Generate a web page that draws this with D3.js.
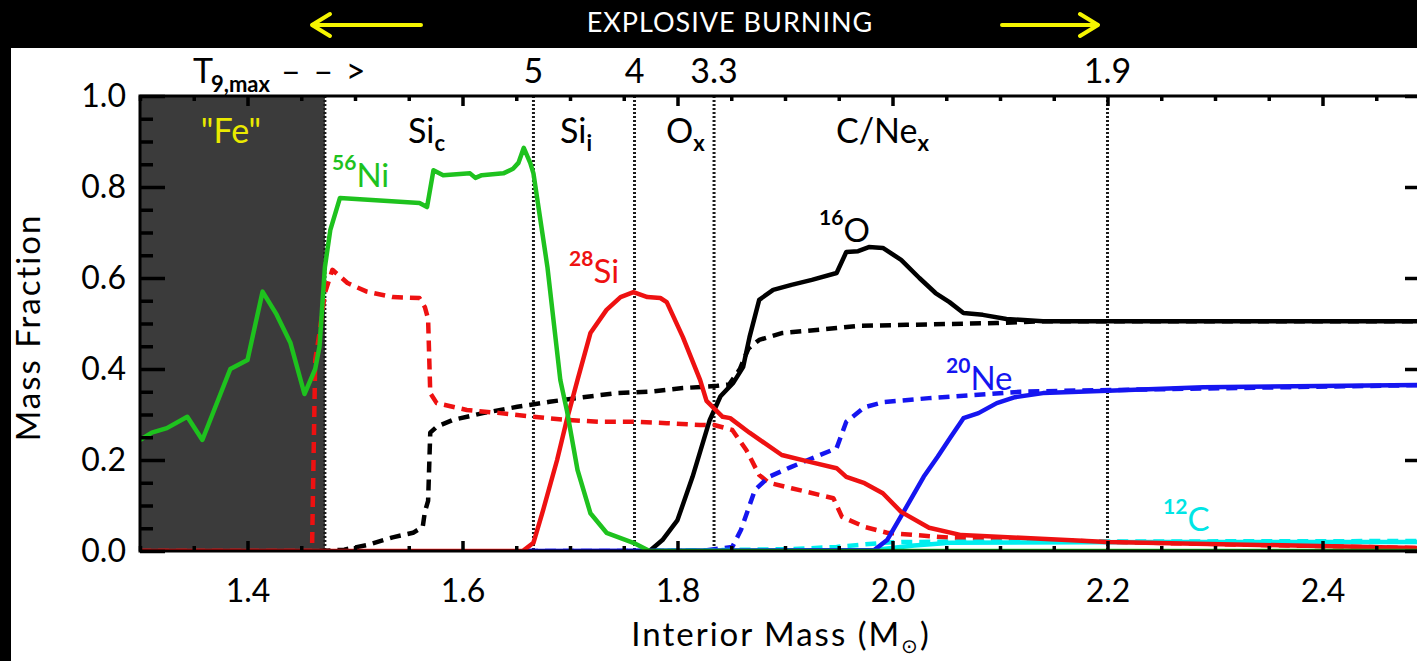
<!DOCTYPE html>
<html>
<head>
<meta charset="utf-8">
<script src="https://cdn.jsdelivr.net/npm/d3@7"></script>
<style>
  html, body { margin: 0; padding: 0; background: #000; }
  svg { display: block; }
  text { font-family: Lato, "DejaVu Sans", sans-serif; }
</style>
</head>
<body>
<svg id="chart" width="1417" height="661"></svg>
<script>
// mass fraction vs interior mass (Msun)
const ni56Solid = [[1.300,0.244],[1.311,0.26],[1.325,0.27],[1.344,0.295],[1.358,0.244],[1.384,0.40],[1.400,0.42],[1.414,0.57],[1.427,0.52],[1.440,0.457],[1.453,0.345],[1.463,0.40],[1.467,0.45],[1.472,0.624],[1.477,0.705],[1.486,0.776],[1.560,0.765],[1.567,0.756],[1.573,0.837],[1.582,0.826],[1.607,0.83],[1.612,0.82],[1.618,0.826],[1.638,0.83],[1.647,0.84],[1.652,0.853],[1.657,0.886],[1.663,0.853],[1.666,0.83],[1.679,0.624],[1.691,0.376],[1.697,0.31],[1.707,0.178],[1.719,0.083],[1.734,0.04],[1.759,0.018],[1.774,0.0],[2.5,0.0]]
const si28Solid = [[1.300,0],[1.656,0],[1.666,0.018],[1.675,0.09],[1.688,0.2],[1.697,0.288],[1.707,0.376],[1.719,0.479],[1.734,0.53],[1.747,0.558],[1.759,0.569],[1.772,0.558],[1.784,0.556],[1.790,0.547],[1.805,0.47],[1.821,0.376],[1.827,0.33],[1.842,0.295],[1.849,0.292],[1.867,0.26],[1.897,0.211],[1.923,0.196],[1.948,0.182],[1.957,0.163],[1.974,0.149],[1.991,0.127],[2.008,0.086],[2.034,0.051],[2.064,0.035],[2.119,0.029],[2.200,0.02],[2.5,0.006]]
const si28Dash = [[1.300,0],[1.460,0],[1.463,0.42],[1.467,0.48],[1.472,0.567],[1.479,0.618],[1.493,0.589],[1.511,0.57],[1.535,0.558],[1.560,0.556],[1.565,0.536],[1.568,0.51],[1.570,0.347],[1.576,0.325],[1.604,0.31],[1.635,0.303],[1.666,0.295],[1.697,0.288],[1.728,0.284],[1.759,0.284],[1.790,0.281],[1.821,0.277],[1.834,0.277],[1.851,0.266],[1.864,0.222],[1.876,0.167],[1.885,0.15],[1.906,0.138],[1.945,0.116],[1.953,0.075],[1.974,0.053],[1.995,0.04],[2.054,0.029],[2.119,0.026],[2.200,0.02],[2.5,0.006]]
const o16Solid = [[1.774,0],[1.786,0.024],[1.800,0.068],[1.814,0.163],[1.830,0.288],[1.840,0.34],[1.852,0.37],[1.861,0.404],[1.867,0.47],[1.876,0.552],[1.889,0.574],[1.906,0.585],[1.925,0.596],[1.948,0.611],[1.957,0.657],[1.968,0.659],[1.978,0.668],[1.991,0.666],[2.008,0.64],[2.025,0.6],[2.040,0.567],[2.053,0.547],[2.066,0.523],[2.084,0.519],[2.106,0.51],[2.140,0.505],[2.5,0.505]]
const o16Dash = [[1.467,0],[1.490,0.003],[1.511,0.013],[1.535,0.03],[1.554,0.04],[1.563,0.053],[1.565,0.086],[1.568,0.11],[1.570,0.26],[1.576,0.273],[1.591,0.288],[1.619,0.303],[1.651,0.317],[1.681,0.328],[1.712,0.338],[1.744,0.347],[1.774,0.35],[1.805,0.358],[1.837,0.363],[1.848,0.366],[1.858,0.40],[1.866,0.445],[1.876,0.464],[1.897,0.479],[1.948,0.49],[1.970,0.495],[2.013,0.497],[2.097,0.501],[2.140,0.505],[2.5,0.505]]
const ne20Solid = [[1.660,0],[1.983,0.002],[1.995,0.024],[2.013,0.097],[2.029,0.163],[2.042,0.207],[2.054,0.25],[2.066,0.292],[2.080,0.303],[2.097,0.325],[2.114,0.338],[2.140,0.347],[2.200,0.352],[2.289,0.36],[2.5,0.365]]
const ne20Dash = [[1.660,0],[1.821,0],[1.851,0.009],[1.859,0.046],[1.872,0.134],[1.885,0.163],[1.906,0.185],[1.948,0.226],[1.957,0.284],[1.974,0.316],[1.991,0.327],[2.034,0.336],[2.076,0.343],[2.119,0.35],[2.156,0.352],[2.5,0.365]]
const c12Solid = [[1.774,0],[1.983,0.002],[2.020,0.012],[2.054,0.018],[2.246,0.02],[2.5,0.02]]
const c12Dash = [[1.774,0],[1.905,0.004],[1.948,0.009],[1.991,0.018],[2.013,0.02],[2.5,0.022]]

// burning zone boundaries and peak temperatures (T9) on top
const boundaries = [1.472, 1.666, 1.760, 1.834, 2.200]
const tempLabels = ['', '5', '4', '3.3', '1.9']
const xTicks = [1.4, 1.6, 1.8, 2.0, 2.2, 2.4]
const yTicks = [0.0, 0.2, 0.4, 0.6, 0.8, 1.0]

const W = 1417, H = 661
const x = d3.scaleLinear().domain([1.3, 2.5]).range([140, 1430])
const y = d3.scaleLinear().domain([0, 1]).range([551, 96])

const svg = d3.select('#chart')
svg.append('rect').attr('width', W).attr('height', H).attr('fill', '#000')
svg.append('rect').attr('x', 11).attr('y', 48).attr('width', W - 11).attr('height', H - 48).attr('fill', '#fff')

/* ---------- header ---------- */
svg.append('text')
  .attr('x', 730).attr('y', 32)
  .attr('text-anchor', 'middle')
  .attr('fill', '#fff')
  .style('font-size', '27px')
  .style('letter-spacing', '1px')
  .text('EXPLOSIVE BURNING')

function arrow(tail, tip) {
  const dir = tip > tail ? -1 : 1
  svg.append('path')
    .attr('d', `M${tail},25 L${tip},25 M${tip + dir * 18},14 L${tip},25 L${tip + dir * 18},36`)
    .attr('fill', 'none')
    .attr('stroke', '#f5f500')
    .attr('stroke-width', 4)
    .attr('stroke-linecap', 'round')
    .attr('stroke-linejoin', 'round')
}
arrow(421, 312)
arrow(1002, 1098)

/* ---------- plot ---------- */
svg.append('clipPath').attr('id', 'clip')
  .append('rect')
  .attr('x', x(1.3)).attr('y', y(1))
  .attr('width', x(2.5) - x(1.3)).attr('height', y(0) - y(1))

const plot = svg.append('g').attr('clip-path', 'url(#clip)')

plot.append('rect')
  .attr('x', x(1.3)).attr('y', y(1))
  .attr('width', x(boundaries[0]) - x(1.3))
  .attr('height', y(0) - y(1))
  .attr('fill', '#3b3b3b')

plot.selectAll('line.bound')
  .data(boundaries)
  .enter()
  .append('line')
  .attr('class', 'bound')
  .attr('x1', d => x(d)).attr('x2', d => x(d))
  .attr('y1', y(1)).attr('y2', y(0))
  .attr('stroke', '#1a1a1a')
  .attr('stroke-width', 3)
  .attr('stroke-dasharray', '2,2')

const line = d3.line().x(d => x(d[0])).y(d => y(d[1]))

const series = [
  { data: o16Dash, color: '#000', dash: '11,7' },
  { data: si28Dash, color: '#ee1111', dash: '11,7' },
  { data: ne20Dash, color: '#1515f0', dash: '11,7' },
  { data: c12Dash, color: '#00eeee', dash: '11,7' },
  { data: c12Solid, color: '#00eeee', dash: null },
  { data: o16Solid, color: '#000', dash: null },
  { data: ne20Solid, color: '#1515f0', dash: null },
  { data: si28Solid, color: '#ee1111', dash: null },
  { data: ni56Solid, color: '#1ec21e', dash: null }
]

plot.selectAll('path.series')
  .data(series)
  .enter()
  .append('path')
  .attr('class', 'series')
  .attr('d', d => line(d.data))
  .attr('fill', 'none')
  .attr('stroke', d => d.color)
  .attr('stroke-width', 4.5)
  .attr('stroke-dasharray', d => d.dash)
  .attr('stroke-linejoin', 'round')

/* ---------- axes ---------- */
const xMinor = d3.range(1.30, 2.501, 0.05).filter(v => !xTicks.some(t => Math.abs(t - v) < 1e-6))
const yMinor = d3.range(0.05, 1.0, 0.05).filter(v => !yTicks.some(t => Math.abs(t - v) < 1e-6))

function styleAxis(g) {
  g.select('.domain').remove()
  g.selectAll('line').attr('stroke', '#000').attr('stroke-width', 3.5)
  g.selectAll('text').attr('fill', '#000').style('font-size', '32px')
}

svg.append('g').attr('transform', `translate(0,${y(0)})`)
  .call(d3.axisBottom(x).tickValues(xTicks).tickSizeInner(-10).tickSizeOuter(0).tickPadding(28).tickFormat(d3.format('.1f')))
  .call(styleAxis)
svg.append('g').attr('transform', `translate(0,${y(0)})`)
  .call(d3.axisBottom(x).tickValues(xMinor).tickSizeInner(-5).tickSizeOuter(0).tickFormat(''))
  .call(styleAxis)
svg.append('g').attr('transform', `translate(0,${y(1)})`)
  .call(d3.axisTop(x).tickValues(xTicks).tickSizeInner(-10).tickSizeOuter(0).tickFormat(''))
  .call(styleAxis)
svg.append('g').attr('transform', `translate(0,${y(1)})`)
  .call(d3.axisTop(x).tickValues(xMinor).tickSizeInner(-5).tickSizeOuter(0).tickFormat(''))
  .call(styleAxis)

svg.append('g').attr('transform', `translate(${x(1.3)},0)`)
  .call(d3.axisLeft(y).tickValues(yTicks).tickSizeInner(-25).tickSizeOuter(0).tickPadding(14).tickFormat(d3.format('.1f')))
  .call(styleAxis)
svg.append('g').attr('transform', `translate(${x(1.3)},0)`)
  .call(d3.axisLeft(y).tickValues(yMinor).tickSizeInner(-13).tickSizeOuter(0).tickFormat(''))
  .call(styleAxis)
svg.append('g').attr('transform', `translate(${x(2.5)},0)`)
  .call(d3.axisRight(y).tickValues(yTicks).tickSizeInner(-25).tickSizeOuter(0).tickFormat(''))
  .call(styleAxis)
svg.append('g').attr('transform', `translate(${x(2.5)},0)`)
  .call(d3.axisRight(y).tickValues(yMinor).tickSizeInner(-13).tickSizeOuter(0).tickFormat(''))
  .call(styleAxis)

svg.append('rect')
  .attr('x', x(1.3)).attr('y', y(1))
  .attr('width', x(2.5) - x(1.3)).attr('height', y(0) - y(1))
  .attr('fill', 'none')
  .attr('stroke', '#000')
  .attr('stroke-width', 3)

// axis titles
svg.append('text')
  .attr('transform', `translate(40,${(y(0) + y(1)) / 2 + 4}) rotate(-90)`)
  .attr('text-anchor', 'middle')
  .style('font-size', '33px')
  .style('letter-spacing', '2px')
  .text('Mass Fraction')

const xt = svg.append('text')
  .attr('x', 781).attr('y', 646)
  .attr('text-anchor', 'middle')
  .style('font-size', '33px')
  .style('letter-spacing', '2px')
xt.append('tspan').text('Interior Mass (M')
xt.append('tspan').attr('dy', 7).style('font-size', '20px').style('font-family', '"DejaVu Sans"').text('\u2299')
xt.append('tspan').attr('dy', -7).text(')')

/* ---------- top T9 labels ---------- */
svg.append('text').attr('x', 193).attr('y', 83).style('font-size', '34px').text('T')
svg.append('text').attr('x', 211).attr('y', 92).style('font-size', '22px').style('font-weight', 'bold').text('9,max')
svg.append('text').attr('x', 281).attr('y', 83).style('font-size', '34px').style('letter-spacing', '2px').text('\u2013 \u2013 >')

svg.selectAll('text.temp')
  .data(boundaries.map((b, i) => ({ b, t: tempLabels[i] })).filter(d => d.t))
  .enter()
  .append('text')
  .attr('class', 'temp')
  .attr('x', d => x(d.b))
  .attr('y', 83)
  .attr('text-anchor', 'middle')
  .style('font-size', '34px')
  .text(d => d.t)

/* ---------- region labels ---------- */
function subLabel(px, py, main, sub) {
  const t = svg.append('text').attr('x', px).attr('y', py).style('font-size', '34px')
  t.append('tspan').text(main)
  t.append('tspan').attr('dy', 8).style('font-size', '22px').style('font-weight', 'bold').text(sub)
}
subLabel(408, 143, 'Si', 'c')
subLabel(560, 143, 'Si', 'i')
subLabel(666, 143, 'O', 'x')
subLabel(836, 143, 'C/Ne', 'x')

svg.append('text')
  .attr('x', 231).attr('y', 143)
  .attr('text-anchor', 'middle')
  .attr('fill', '#eaea00')
  .style('font-size', '34px')
  .text('"Fe"')

/* ---------- isotope labels ---------- */
function isoLabel(px, py, mass, sym, color) {
  const t = svg.append('text').attr('x', px).attr('y', py).attr('fill', color).style('font-size', '33px')
  t.append('tspan').attr('dy', -17).style('font-size', '21px').style('font-weight', 'bold').text(mass)
  t.append('tspan').attr('dy', 17).text(sym)
}
isoLabel(332, 187, '56', 'Ni', '#1ec21e')
isoLabel(569, 283, '28', 'Si', '#ee1111')
isoLabel(819, 242, '16', 'O', '#000')
isoLabel(946, 390, '20', 'Ne', '#1515f0')
isoLabel(1163, 531, '12', 'C', '#00e5e5')
</script>
</body>
</html>
